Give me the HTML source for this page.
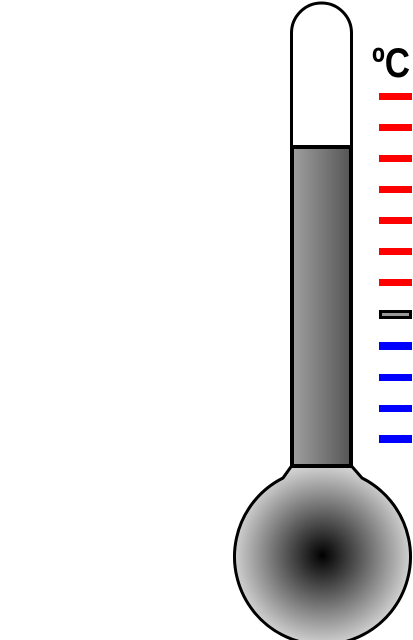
<!DOCTYPE html>
<html><head><meta charset="utf-8"><style>
html,body{margin:0;padding:0;background:#fff;width:413px;height:640px;overflow:hidden}
svg{display:block}
</style></head><body>
<svg width="413" height="640" viewBox="0 0 413 640">
<defs>
<linearGradient id="tg" x1="0" x2="1" y1="0" y2="0">
<stop offset="0" stop-color="#a0a0a0"/><stop offset="1" stop-color="#555"/></linearGradient>
<radialGradient id="bg" cx="0.5" cy="0.5" r="0.5">
<stop offset="0" stop-color="#000"/><stop offset="1" stop-color="#d0d0d0"/></radialGradient>
</defs>
<path d="M291.5,150 L291.5,33 A30,30 0 0 1 351.5,33 L351.5,150" fill="#fff" stroke="#000" stroke-width="3"/>
<path d="M291.5,466 L351.5,466 L362,478 A88,88 0 1 1 283,478 Z" fill="url(#bg)" stroke="#000" stroke-width="3" stroke-linejoin="round"/>
<rect x="292" y="147" width="59" height="319" fill="url(#tg)" stroke="#000" stroke-width="4"/>
<text x="391" y="77" text-anchor="middle" font-family="Liberation Sans, sans-serif" font-weight="bold" font-size="42" textLength="38" lengthAdjust="spacingAndGlyphs">ºC</text>
<g>
<rect x="379" y="93" width="33" height="7" fill="#f00"/>
<rect x="379" y="124" width="33" height="7" fill="#f00"/>
<rect x="379" y="155" width="33" height="7" fill="#f00"/>
<rect x="379" y="186" width="33" height="7" fill="#f00"/>
<rect x="379" y="217" width="33" height="7" fill="#f00"/>
<rect x="379" y="248" width="33" height="7" fill="#f00"/>
<rect x="379" y="279" width="33" height="7" fill="#f00"/>
<rect x="380.5" y="311.5" width="30" height="6" fill="#999" stroke="#000" stroke-width="3"/>
<rect x="379" y="342" width="33" height="8" fill="#00f"/>
<rect x="379" y="374" width="33" height="7" fill="#00f"/>
<rect x="379" y="405" width="33" height="7" fill="#00f"/>
<rect x="379" y="435" width="33" height="8" fill="#00f"/>
</g>
</svg>
</body></html>
